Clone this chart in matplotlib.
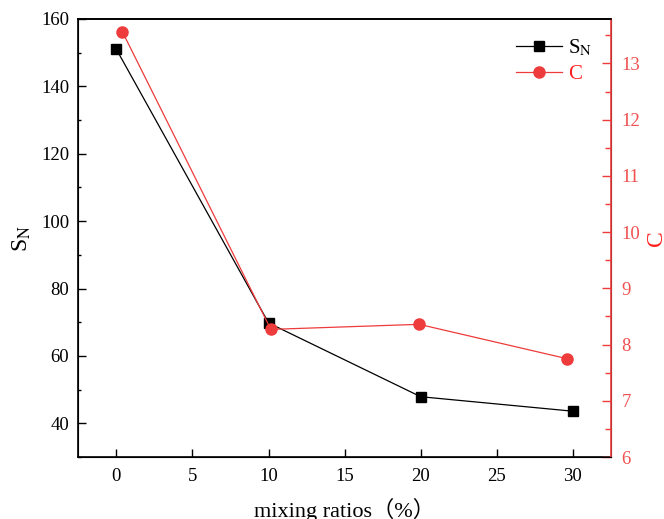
import matplotlib.pyplot as plt
from matplotlib.ticker import MultipleLocator

plt.rcParams['font.family'] = ['Liberation Serif', 'Noto Sans CJK SC']
plt.rcParams['mathtext.fontset'] = 'stix'

# data
x_sn = [0, 10, 20, 30]
sn = [151.0, 69.8, 47.9, 43.6]
x_c = [0.4, 10.15, 19.9, 29.6]
c = [13.56, 8.27, 8.36, 7.75]

red = '#EE3B3B'

fig = plt.figure(figsize=(6.64, 5.19), dpi=100)
ax = fig.add_axes([0.118, 0.1194, 0.802, 0.844])
ax2 = ax.twinx()

l1, = ax.plot(x_sn, sn, color='black', lw=0.9, marker='s', ms=7, label='S$_\\mathrm{N}$', zorder=3)
l2, = ax2.plot(x_c, c, color=red, lw=0.9, marker='o', ms=8, label='C', zorder=3)

ax.set_xlim(-2.5, 32.5)
ax.set_ylim(30, 160)
ax2.set_ylim(6, 13.79)

ax.xaxis.set_major_locator(MultipleLocator(5))
ax.yaxis.set_major_locator(MultipleLocator(20))
ax.yaxis.set_minor_locator(MultipleLocator(10))
ax2.yaxis.set_major_locator(MultipleLocator(1))
ax2.yaxis.set_minor_locator(MultipleLocator(0.5))

ax.tick_params(axis='x', which='major', direction='in', length=5.5, width=1, labelsize=13.5, pad=8)
ax.tick_params(axis='y', which='major', direction='in', length=5.5, width=1, labelsize=13.5, pad=6.5)
ax.tick_params(axis='y', which='minor', direction='in', length=2.5, width=1)
ax.tick_params(top=False, right=False)
ax2.tick_params(axis='y', which='major', direction='in', length=6.5, width=1,
                colors=red, labelsize=13.5, labelcolor='#F05050', pad=7.5)
ax2.tick_params(axis='y', which='minor', direction='in', length=4, width=1, colors=red)

for s in ['left', 'bottom', 'top']:
    ax.spines[s].set_linewidth(1.2)
ax2.spines['right'].set_color(red)
ax2.spines['right'].set_linewidth(1.2)
ax2.spines['top'].set_linewidth(1.2)

ax.set_xlabel('mixing ratios（%）', fontsize=16, labelpad=9)
ax.set_ylabel('S$_\\mathrm{N}$', fontsize=17, labelpad=6)
ax2.set_ylabel('C', fontsize=17, color='#FF2020', labelpad=4)

leg = ax.legend([l1, l2], ['S$_\\mathrm{N}$', 'C'], loc='upper right',
                bbox_to_anchor=(1.0, 1.0), frameon=False, fontsize=15,
                handlelength=2.2, handletextpad=0.3, labelspacing=0.3)
leg.get_texts()[1].set_color('#FF2020')

fig.savefig('out.png', dpi=100)
